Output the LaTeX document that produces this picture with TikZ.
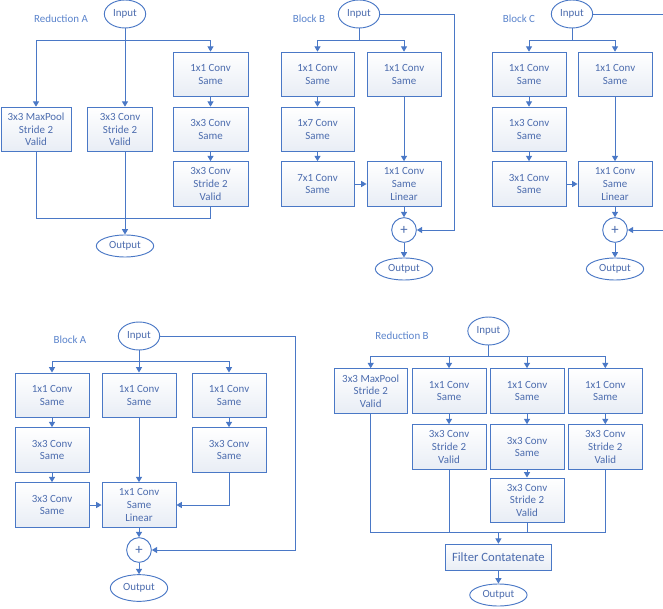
\documentclass[tikz,border=0pt]{standalone}
\usepackage{fontspec}
\setmainfont{Carlito}
\usetikzlibrary{arrows.meta, calc, shapes.geometric}
\definecolor{Wire}{HTML}{4A78C6}
\definecolor{Ink}{HTML}{4C6CAE}
\definecolor{Heading}{HTML}{5B84CC}
\definecolor{Shade}{HTML}{E8EDF5}

\begin{document}
\begin{tikzpicture}[
  x=0.75pt, y=-0.75pt,
  font=\fontsize{8.2}{9.5}\selectfont,
  layer/.style={
    rectangle,
    draw=Wire,
    line width=0.7pt,
    top color=white,
    bottom color=Shade,
    text=Ink,
    align=center,
    minimum width=55.5pt,
    minimum height=33.5pt,
    inner sep=1pt
  },
  terminal/.style={
    ellipse,
    draw=Wire,
    line width=0.7pt,
    fill=white,
    text=Ink,
    inner sep=0pt
  },
  innode/.style={terminal, minimum width=31pt, minimum height=21pt},
  outnode/.style={terminal, minimum width=43pt, minimum height=16.5pt},
  addnode/.style={
    circle,
    draw=Wire,
    line width=0.7pt,
    fill=white,
    text=Ink,
    minimum size=18.5pt,
    inner sep=0pt,
    font=\fontsize{11}{11}\selectfont
  },
  heading/.style={text=Heading},
  wire/.style={draw=Wire, line width=0.7pt},
  flow/.style={wire, -{Triangle[length=4pt,width=4.5pt]}}
]

\useasboundingbox (0,0) rectangle (663,609);
\fill[white] (0,0) rectangle (663,609);
\clip (0,0) rectangle (663,609);

% Reduction A
\node[heading] (raTitle) at (61,19) {Reduction A};
\node[innode] (raIn) at (125,14) {Input};
\node[layer, minimum width=52.5pt] (ra1) at (36,129.5) {3x3 MaxPool\\Stride 2\\Valid};
\node[layer, minimum width=48.75pt] (ra2) at (120,129.5) {3x3 Conv\\Stride 2\\Valid};
\node[layer, minimum width=56.25pt] (ra3) at (210.5,74.5) {1x1 Conv\\Same};
\node[layer, minimum width=56.25pt] (ra4) at (210.5,129.5) {3x3 Conv\\Same};
\node[layer, minimum width=56.25pt] (ra5) at (210.5,184) {3x3 Conv\\Stride 2\\Valid};
\node[outnode] (raOut) at (125,246) {Output};
\coordinate (raSplit) at (125,40.7);
\coordinate (raJoin) at (125,218);

\draw[wire] (raIn) -- (raSplit);
\draw[flow] (raSplit) -| (ra1);
\draw[flow] (raSplit) -| (ra3);
\draw[flow] (raSplit) -- (raSplit |- ra2.north);
\draw[flow] (ra3) -- (ra4);
\draw[flow] (ra4) -- (ra5);
\draw[wire] (ra1) |- (raJoin);
\draw[wire] (ra5) |- (raJoin);
\draw[flow] (raSplit |- ra2.south) -- (raOut);

% Block B
\node[heading] (bbTitle) at (309,19) {Block B};
\node[innode] (bbIn) at (359,14) {Input};
\node[layer, minimum width=54.75pt] (bb1) at (317.5,74.5) {1x1 Conv\\Same};
\node[layer, minimum width=54.75pt] (bb2) at (317.5,129.5) {1x7 Conv\\Same};
\node[layer, minimum width=54.75pt] (bb3) at (317.5,184) {7x1 Conv\\Same};
\node[layer] (bb4) at (404,74.5) {1x1 Conv\\Same};
\node[layer] (bb5) at (404,184) {1x1 Conv\\Same\\Linear};
\node[addnode] (bbAdd) at (404,230) {+};
\node[outnode] (bbOut) at (404,269) {Output};
\coordinate (bbSplit) at (359,40.7);
\coordinate (bbSkip) at (454,14);

\draw[wire] (bbIn) -- (bbSplit);
\draw[flow] (bbSplit) -| (bb1);
\draw[flow] (bbSplit) -| (bb4);
\draw[flow] (bb1) -- (bb2);
\draw[flow] (bb2) -- (bb3);
\draw[flow] (bb3) -- (bb5);
\draw[flow] (bb4) -- (bb5);
\draw[flow] (bb5) -- (bbAdd);
\draw[flow] (bbAdd) -- (bbOut);
\draw[flow] (bbIn) -- (bbSkip) |- (bbAdd);

% Block C
\node[heading] (bcTitle) at (519,19) {Block C};
\node[innode] (bcIn) at (572,14) {Input};
\node[layer] (bc1) at (529,74.5) {1x1 Conv\\Same};
\node[layer] (bc2) at (529,129.5) {1x3 Conv\\Same};
\node[layer] (bc3) at (529,184) {3x1 Conv\\Same};
\node[layer] (bc4) at (615,74.5) {1x1 Conv\\Same};
\node[layer] (bc5) at (615,184) {1x1 Conv\\Same\\Linear};
\node[addnode] (bcAdd) at (615,230) {+};
\node[outnode] (bcOut) at (615,269) {Output};
\coordinate (bcSplit) at (572,40.7);
\coordinate (bcSkip) at (672,14);

\draw[wire] (bcIn) -- (bcSplit);
\draw[flow] (bcSplit) -| (bc1);
\draw[flow] (bcSplit) -| (bc4);
\draw[flow] (bc1) -- (bc2);
\draw[flow] (bc2) -- (bc3);
\draw[flow] (bc3) -- (bc5);
\draw[flow] (bc4) -- (bc5);
\draw[flow] (bc5) -- (bcAdd);
\draw[flow] (bcAdd) -- (bcOut);
\draw[flow] (bcIn) -- (bcSkip) |- (bcAdd);

% Block A
\node[heading] (baTitle) at (70,340) {Block A};
\node[innode] (baIn) at (139,336) {Input};
\node[layer] (ba1) at (52,395.3) {1x1 Conv\\Same};
\node[layer] (ba2) at (52,450) {3x3 Conv\\Same};
\node[layer] (ba3) at (52,505) {3x3 Conv\\Same};
\node[layer] (ba4) at (139,395.3) {1x1 Conv\\Same};
\node[layer] (ba5) at (139,505) {1x1 Conv\\Same\\Linear};
\node[layer] (ba6) at (229,395.3) {1x1 Conv\\Same};
\node[layer] (ba7) at (229,450) {3x3 Conv\\Same};
\node[addnode] (baAdd) at (139,550) {+};
\node[outnode, minimum height=20pt] (baOut) at (139,588) {Output};
\coordinate (baSplit) at (139,361);
\coordinate (baSkip) at (295,336);

\draw[wire] (baIn) -- (baSplit);
\draw[flow] (baSplit) -| (ba1);
\draw[flow] (baSplit) -- (ba4);
\draw[flow] (baSplit) -| (ba6);
\draw[flow] (ba1) -- (ba2);
\draw[flow] (ba2) -- (ba3);
\draw[flow] (ba6) -- (ba7);
\draw[flow] (ba4) -- (ba5);
\draw[flow] (ba3) -- (ba5);
\draw[flow] (ba7) |- (ba5);
\draw[flow] (ba5) -- (baAdd);
\draw[flow] (baAdd) -- (baOut);
\draw[flow] (baIn) -- (baSkip) |- (baAdd);

% Reduction B
\node[heading] (rbTitle) at (402,336) {Reduction B};
\node[innode] (rbIn) at (488.5,331) {Input};
\node[layer, minimum width=55pt] (rb1) at (370.7,391) {3x3 MaxPool\\Stride 2\\Valid};
\node[layer] (rb2) at (449,391) {1x1 Conv\\Same};
\node[layer] (rb3) at (449,447) {3x3 Conv\\Stride 2\\Valid};
\node[layer] (rb4) at (527,391) {1x1 Conv\\Same};
\node[layer] (rb5) at (527,447) {3x3 Conv\\Same};
\node[layer] (rb6) at (527,500.3) {3x3 Conv\\Stride 2\\Valid};
\node[layer] (rb7) at (605.3,391) {1x1 Conv\\Same};
\node[layer] (rb8) at (605.3,447) {3x3 Conv\\Stride 2\\Valid};
\node[layer, minimum width=79pt, minimum height=19.5pt, font=\fontsize{9.5}{11}\selectfont] (rbCat) at (498.4,557.2) {Filter Contatenate};
\node[outnode] (rbOut) at (498.4,595) {Output};
\coordinate (rbSplit) at (488.5,356.7);
\coordinate (rbJoin) at (498.4,532.3);

\draw[wire] (rbIn) -- (rbSplit);
\draw[flow] (rbSplit) -| (rb1);
\draw[flow] (rbSplit) -| (rb2);
\draw[flow] (rbSplit) -| (rb4);
\draw[flow] (rbSplit) -| (rb7);
\draw[flow] (rb2) -- (rb3);
\draw[flow] (rb4) -- (rb5);
\draw[flow] (rb5) -- (rb6);
\draw[flow] (rb7) -- (rb8);
\draw[wire] (rb1) |- (rbJoin);
\draw[wire] (rb3) |- (rbJoin);
\draw[wire] (rb6) |- (rbJoin);
\draw[wire] (rb8) |- (rbJoin);
\draw[flow] (rbJoin) -- (rbCat);
\draw[flow] (rbCat) -- (rbOut);

\end{tikzpicture}
\end{document}
